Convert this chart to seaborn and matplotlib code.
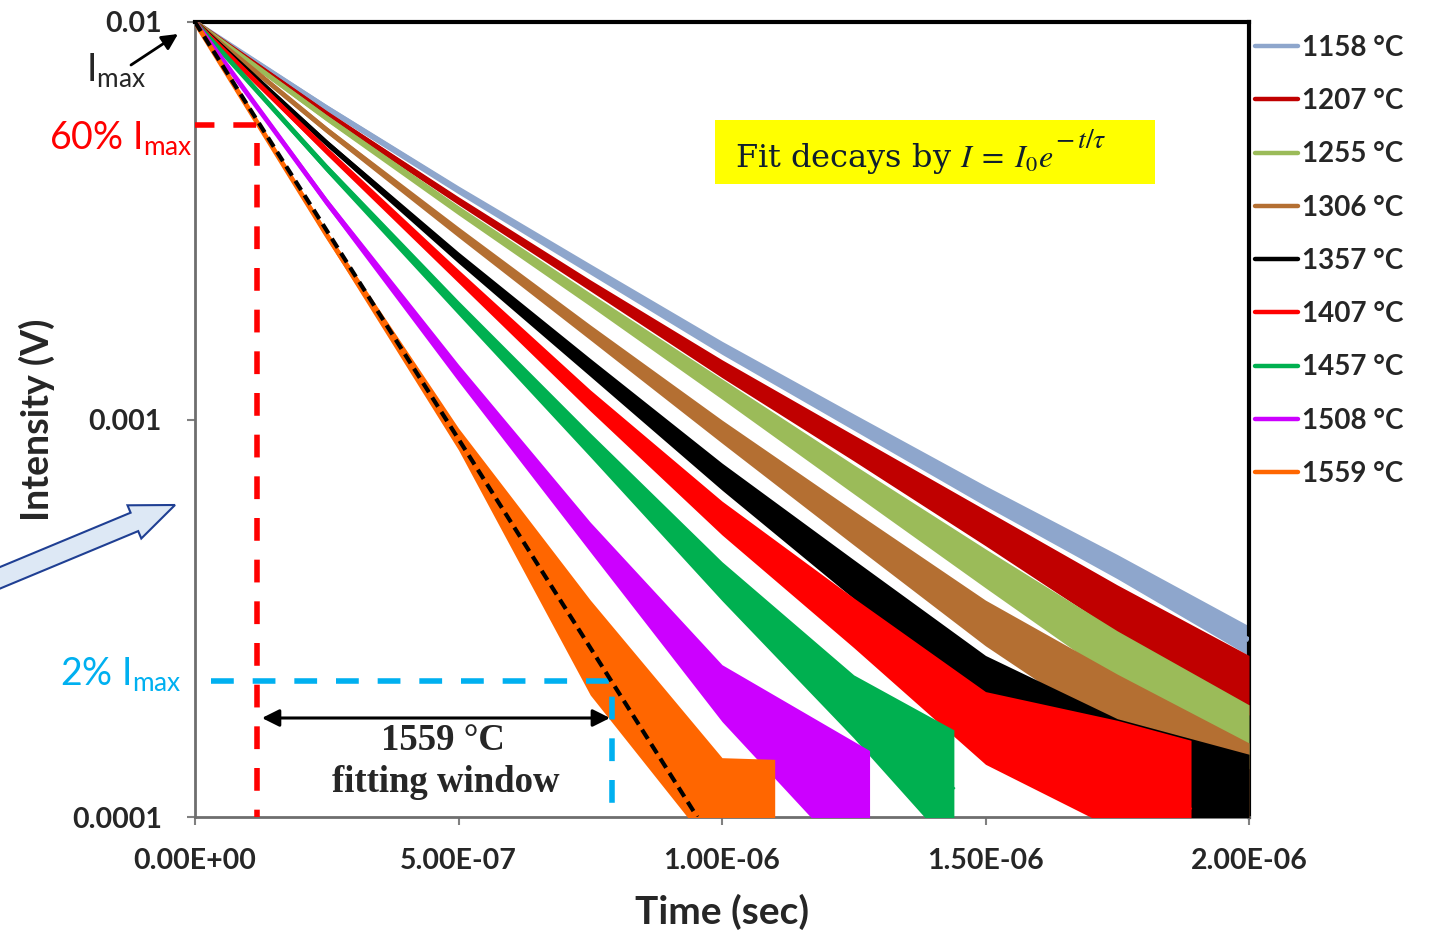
import numpy as np
import pandas as pd
import matplotlib
matplotlib.use("Agg")
import matplotlib.pyplot as plt
from matplotlib.lines import Line2D
from matplotlib.patches import Polygon, Rectangle
from matplotlib.transforms import IdentityTransform
from matplotlib.ticker import FixedLocator, FuncFormatter, NullLocator
import seaborn as sns

# ---------------- data ----------------
series_labels = ["1158 °C", "1207 °C", "1255 °C", "1306 °C", "1357 °C",
                 "1407 °C", "1457 °C", "1508 °C", "1559 °C"]
series_colors = ["#8ea6cc", "#c00000", "#9bbb59", "#b46f32", "#000000",
                 "#ff0000", "#00b050", "#cc00ff", "#ff6600"]

# time (µs) and centre of the noisy decay trace (mV)
t_1158 = [0, 0.25, 0.5, 0.75, 1.0, 1.25, 1.5, 1.75, 2.0]
I_1158 = [10.0, 6.08, 3.78, 2.39, 1.52, 0.991, 0.646, 0.429, 0.279]
t_1207 = [0, 0.25, 0.5, 0.75, 1.0, 1.25, 1.5, 1.75, 2.0]
I_1207 = [10.0, 5.87, 3.55, 2.18, 1.35, 0.853, 0.540, 0.338, 0.217]
t_1255 = [0, 0.25, 0.5, 0.75, 1.0, 1.25, 1.5, 1.75, 2.0]
I_1255 = [10.0, 5.73, 3.37, 2.01, 1.20, 0.713, 0.428, 0.259, 0.163]
t_1306 = [0, 0.25, 0.5, 0.75, 1.0, 1.25, 1.5, 1.75, 2.0]
I_1306 = [10.0, 5.35, 2.96, 1.66, 0.941, 0.540, 0.313, 0.197, 0.126]
t_1357 = [0, 0.25, 0.5, 0.75, 1.0, 1.25, 1.5, 1.75, 2.0]
I_1357 = [10.0, 4.96, 2.56, 1.36, 0.725, 0.402, 0.222, 0.147, 0.114]
t_1407 = [0, 0.25, 0.5, 0.75, 1.0, 1.25, 1.5, 1.75, 1.89]
I_1407 = [10.0, 4.74, 2.30, 1.126, 0.575, 0.317, 0.176, 0.131, 0.104]
t_1457 = [0, 0.25, 0.5, 0.75, 1.0, 1.25, 1.44]
I_1457 = [10.0, 4.29, 1.92, 0.873, 0.402, 0.197, 0.117]
t_1508 = [0, 0.25, 0.5, 0.75, 1.0, 1.28]
I_1508 = [10.0, 3.52, 1.32, 0.515, 0.209, 0.098]
t_1559 = [0, 0.25, 0.5, 0.75, 1.0, 1.1]
I_1559 = [10.0, 2.91, 0.898, 0.271, 0.098, 0.083]

# visible spread of the noise above / below the centre (decades)
up_1158 = [.005, .008, .010, .013, .015, .018, .023, .028, .035]
dn_1158 = [.005, .008, .010, .013, .018, .023, .028, .033, .040]
up_1207 = [.005, .008, .010, .013, .020, .030, .040, .055, .070]
dn_1207 = [.005, .008, .010, .015, .025, .035, .050, .065, .080]
up_1255 = [.005, .008, .010, .015, .023, .033, .043, .055, .070]
dn_1255 = [.005, .008, .013, .018, .028, .040, .055, .070, .091]
up_1306 = [.005, .008, .013, .018, .025, .038, .050, .065, .086]
dn_1306 = [.005, .008, .013, .020, .033, .048, .065, .086, .113]
up_1357 = [.005, .008, .013, .020, .030, .043, .060, .080, .101]
dn_1357 = [.005, .008, .015, .025, .038, .055, .080, .113, .151]
up_1407 = [.005, .010, .015, .023, .035, .050, .070, .126, .176]
dn_1407 = [.005, .010, .018, .030, .050, .075, .113, .151, .151]
up_1457 = [.005, .010, .015, .025, .038, .063, .151]
dn_1457 = [.005, .010, .020, .035, .060, .096, .151]
up_1508 = [.005, .010, .018, .030, .063, .176]
dn_1508 = [.005, .010, .025, .045, .080, .151]
up_1559 = [.005, .010, .025, .113, .158, .226]
dn_1559 = [.005, .010, .030, .126, .101, .101]

# exponential fit of the 1559 °C trace (two end points of the dashed line)
fit_t_us = [0.0, 0.953]
fit_I_mV = [10.0, 0.10]

# fitting window: 60 % and 2 % of Imax
win_t_start_us = 0.118
win_t_end_us = 0.791
I60_mV = 5.5
I2_mV = 0.22

x_ticks = [0, 5e-7, 1e-6, 1.5e-6, 2e-6]
y_ticks = [1e-4, 1e-3, 1e-2]
y_ticklabels = ["0.0001", "0.001", "0.01"]

# ---------------------------------------------------------------
all_t = [t_1158, t_1207, t_1255, t_1306, t_1357, t_1407, t_1457, t_1508, t_1559]
all_I = [I_1158, I_1207, I_1255, I_1306, I_1357, I_1407, I_1457, I_1508, I_1559]
all_up = [up_1158, up_1207, up_1255, up_1306, up_1357, up_1407, up_1457, up_1508, up_1559]
all_dn = [dn_1158, dn_1207, dn_1255, dn_1306, dn_1357, dn_1407, dn_1457, dn_1508, dn_1559]

rows = []
for lab, ts, Is in zip(series_labels, all_t, all_I):
    for t, v in zip(ts, Is):
        rows.append({"series": lab, "t": t * 1e-6, "I": v * 1e-3})
df = pd.DataFrame(rows)

sns.set_theme(style="white")
plt.rcParams["font.family"] = ["Lato", "DejaVu Sans"]

W, H = 1430, 933
fig = plt.figure(figsize=(W / 100, H / 100), dpi=100)
L, R, T, B = 195, 1249, 22, 817
ax = fig.add_axes([L / W, 1 - B / H, (R - L) / W, (B - T) / H])


def fxy(px, py):
    return px / W, 1 - py / H


ax.set_yscale("log")
sns.lineplot(data=df, x="t", y="I", hue="series", hue_order=series_labels,
             palette=series_colors, estimator=None, sort=False, lw=3.5,
             legend=False, ax=ax)
for i, ln in enumerate(ax.lines):
    ln.set_zorder(3 + i)
    ln.set_solid_capstyle("butt")

for i, (ts, Is, up, dn, c) in enumerate(zip(all_t, all_I, all_up, all_dn, series_colors)):
    ts = np.array(ts) * 1e-6
    Is = np.array(Is) * 1e-3
    hi = Is * 10 ** np.array(up)
    lo = Is / 10 ** np.array(dn)
    ax.fill_between(ts, lo, hi, color=c, lw=0, zorder=2.5 + i)

# fitted line
ax.plot(np.array(fit_t_us) * 1e-6, np.array(fit_I_mV) * 1e-3, color="black",
        lw=3.0, ls=(0, (2.6, 1.5)), zorder=20)

# fitting window markers
t0 = win_t_start_us * 1e-6
t1 = win_t_end_us * 1e-6
ax.plot([0, t0, t0], [I60_mV * 1e-3, I60_mV * 1e-3, 1e-4], color="#ff0000",
        lw=4, ls=(0.6, (4.1, 3.4)), zorder=15, clip_on=False)
ax.plot([0.03e-6, t1, t1], [I2_mV * 1e-3, I2_mV * 1e-3, 1e-4], color="#00b0f0",
        lw=4, ls=(0, (4.1, 3.4)), zorder=15, clip_on=False)
ya = 10 ** (-2 - (718 - 22) / 397.5)
ax.annotate("", xy=(0.7875e-6, ya), xytext=(0.127e-6, ya),
            arrowprops=dict(arrowstyle="<|-|>", color="black", lw=2.2,
                            mutation_scale=26, shrinkA=0, shrinkB=0), zorder=21)
ax.text(0.4706e-6, 10 ** (-2 - (740 - 22) / 397.5), "1559 °C",
        family="Liberation Serif", weight="bold", fontsize=26.5,
        ha="center", va="center", zorder=22)
ax.text(0.4763e-6, 10 ** (-2 - (783 - 22) / 397.5), "fitting window",
        family="Liberation Serif", weight="bold", fontsize=26.5,
        ha="center", va="center", zorder=22)

# yellow formula box
ax.add_patch(Rectangle(((715 - L) / (R - L), (B - 184) / (B - T)),
                       440 / (R - L), 64 / (B - T), transform=ax.transAxes,
                       facecolor="#ffff00", edgecolor="none", zorder=23))
formula = ax.text((735 - L) / (R - L), (B - 167) / (B - T),
                  r"Fit decays by $I\;=\;I_0e$", transform=ax.transAxes,
                  family="DejaVu Serif", math_fontfamily="stix", fontsize=23,
                  color="#0f1e2e", ha="left", va="baseline", zorder=24)
renderer = fig.canvas.get_renderer()
bb = formula.get_window_extent(renderer)
x_exp = ax.transAxes.inverted().transform((bb.x1 + 2, 0))[0]
ax.text(x_exp, (B - 148) / (B - T), r"$-\,t/\tau$", transform=ax.transAxes,
        math_fontfamily="stix", fontsize=20, color="#0f1e2e",
        ha="left", va="baseline", zorder=24)

# axes styling
ax.set_xlim(0, 2e-6)
ax.set_ylim(1e-4, 1e-2)
ax.xaxis.set_major_locator(FixedLocator(x_ticks))
ax.xaxis.set_major_formatter(FuncFormatter(lambda v, _: f"{v:.2E}"))
ax.yaxis.set_major_locator(FixedLocator(y_ticks))
ax.yaxis.set_minor_locator(NullLocator())
ax.yaxis.set_major_formatter(FuncFormatter(
    lambda v, _: dict(zip(y_ticks, y_ticklabels)).get(v, "")))
ax.tick_params(axis="both", which="major", direction="out", length=6,
               width=1.5, color="#808080", labelsize=20.5, bottom=True, left=True)
ax.tick_params(axis="y", pad=18)
ax.tick_params(axis="x", pad=16)
for lab in ax.get_xticklabels() + ax.get_yticklabels():
    lab.set_fontweight("bold")
for s in ("top", "right"):
    ax.spines[s].set_color("black")
    ax.spines[s].set_linewidth(3)
for s in ("left", "bottom"):
    ax.spines[s].set_color("#6e6e6e")
    ax.spines[s].set_linewidth(2)

ax.set_xlabel("Time (sec)", fontsize=28, fontweight="bold")
ax.set_ylabel("Intensity (V)", fontsize=27, fontweight="bold")
ax.xaxis.set_label_coords(0.5, (B - 912) / (B - T))
ax.xaxis.label.set_va("center")
ax.yaxis.set_label_coords((37 - L) / (R - L), 0.5)
ax.yaxis.label.set_va("center")

# legend
handles = [Line2D([0], [0], color=c, lw=3.2) for c in series_colors]
leg = ax.legend(handles, series_labels, loc="upper left",
                bbox_to_anchor=fxy(1255, 35), bbox_transform=fig.transFigure,
                frameon=False, fontsize=20, handlelength=1.55, handletextpad=0.15,
                labelspacing=0.98, borderpad=0, borderaxespad=0)
for txt in leg.get_texts():
    txt.set_fontweight("bold")

# annotations outside the axes
fig.text(*fxy(86, 82), r"I$_\mathregular{max}$", fontsize=27, ha="left", va="baseline")
ax.annotate("", xy=fxy(178, 34), xytext=fxy(131, 65), xycoords="figure fraction",
            textcoords="figure fraction",
            arrowprops=dict(arrowstyle="-|>", color="black", lw=2,
                            mutation_scale=24, shrinkA=0, shrinkB=0),
            annotation_clip=False)
fig.text(*fxy(192, 150), r"60% I$_\mathregular{max}$", fontsize=27,
         color="#ff0000", ha="right", va="baseline")
fig.text(*fxy(182, 686), r"2% I$_\mathregular{max}$", fontsize=27,
         color="#00b0f0", ha="right", va="baseline")

# block arrow at the left
pts_img = [(175, 505), (127.5, 505.3), (130.6, 512.7), (-59.6, 591.8),
           (-52, 610.2), (138.2, 531.1), (141.3, 538.5)]
pts_disp = [(x, H - y) for x, y in pts_img]
fig.patches.append(Polygon(pts_disp, closed=True, facecolor="#dde8f5",
                           edgecolor="#1f3f93", lw=1.5,
                           transform=IdentityTransform(), figure=fig))

fig.savefig("out.png", dpi=100)
